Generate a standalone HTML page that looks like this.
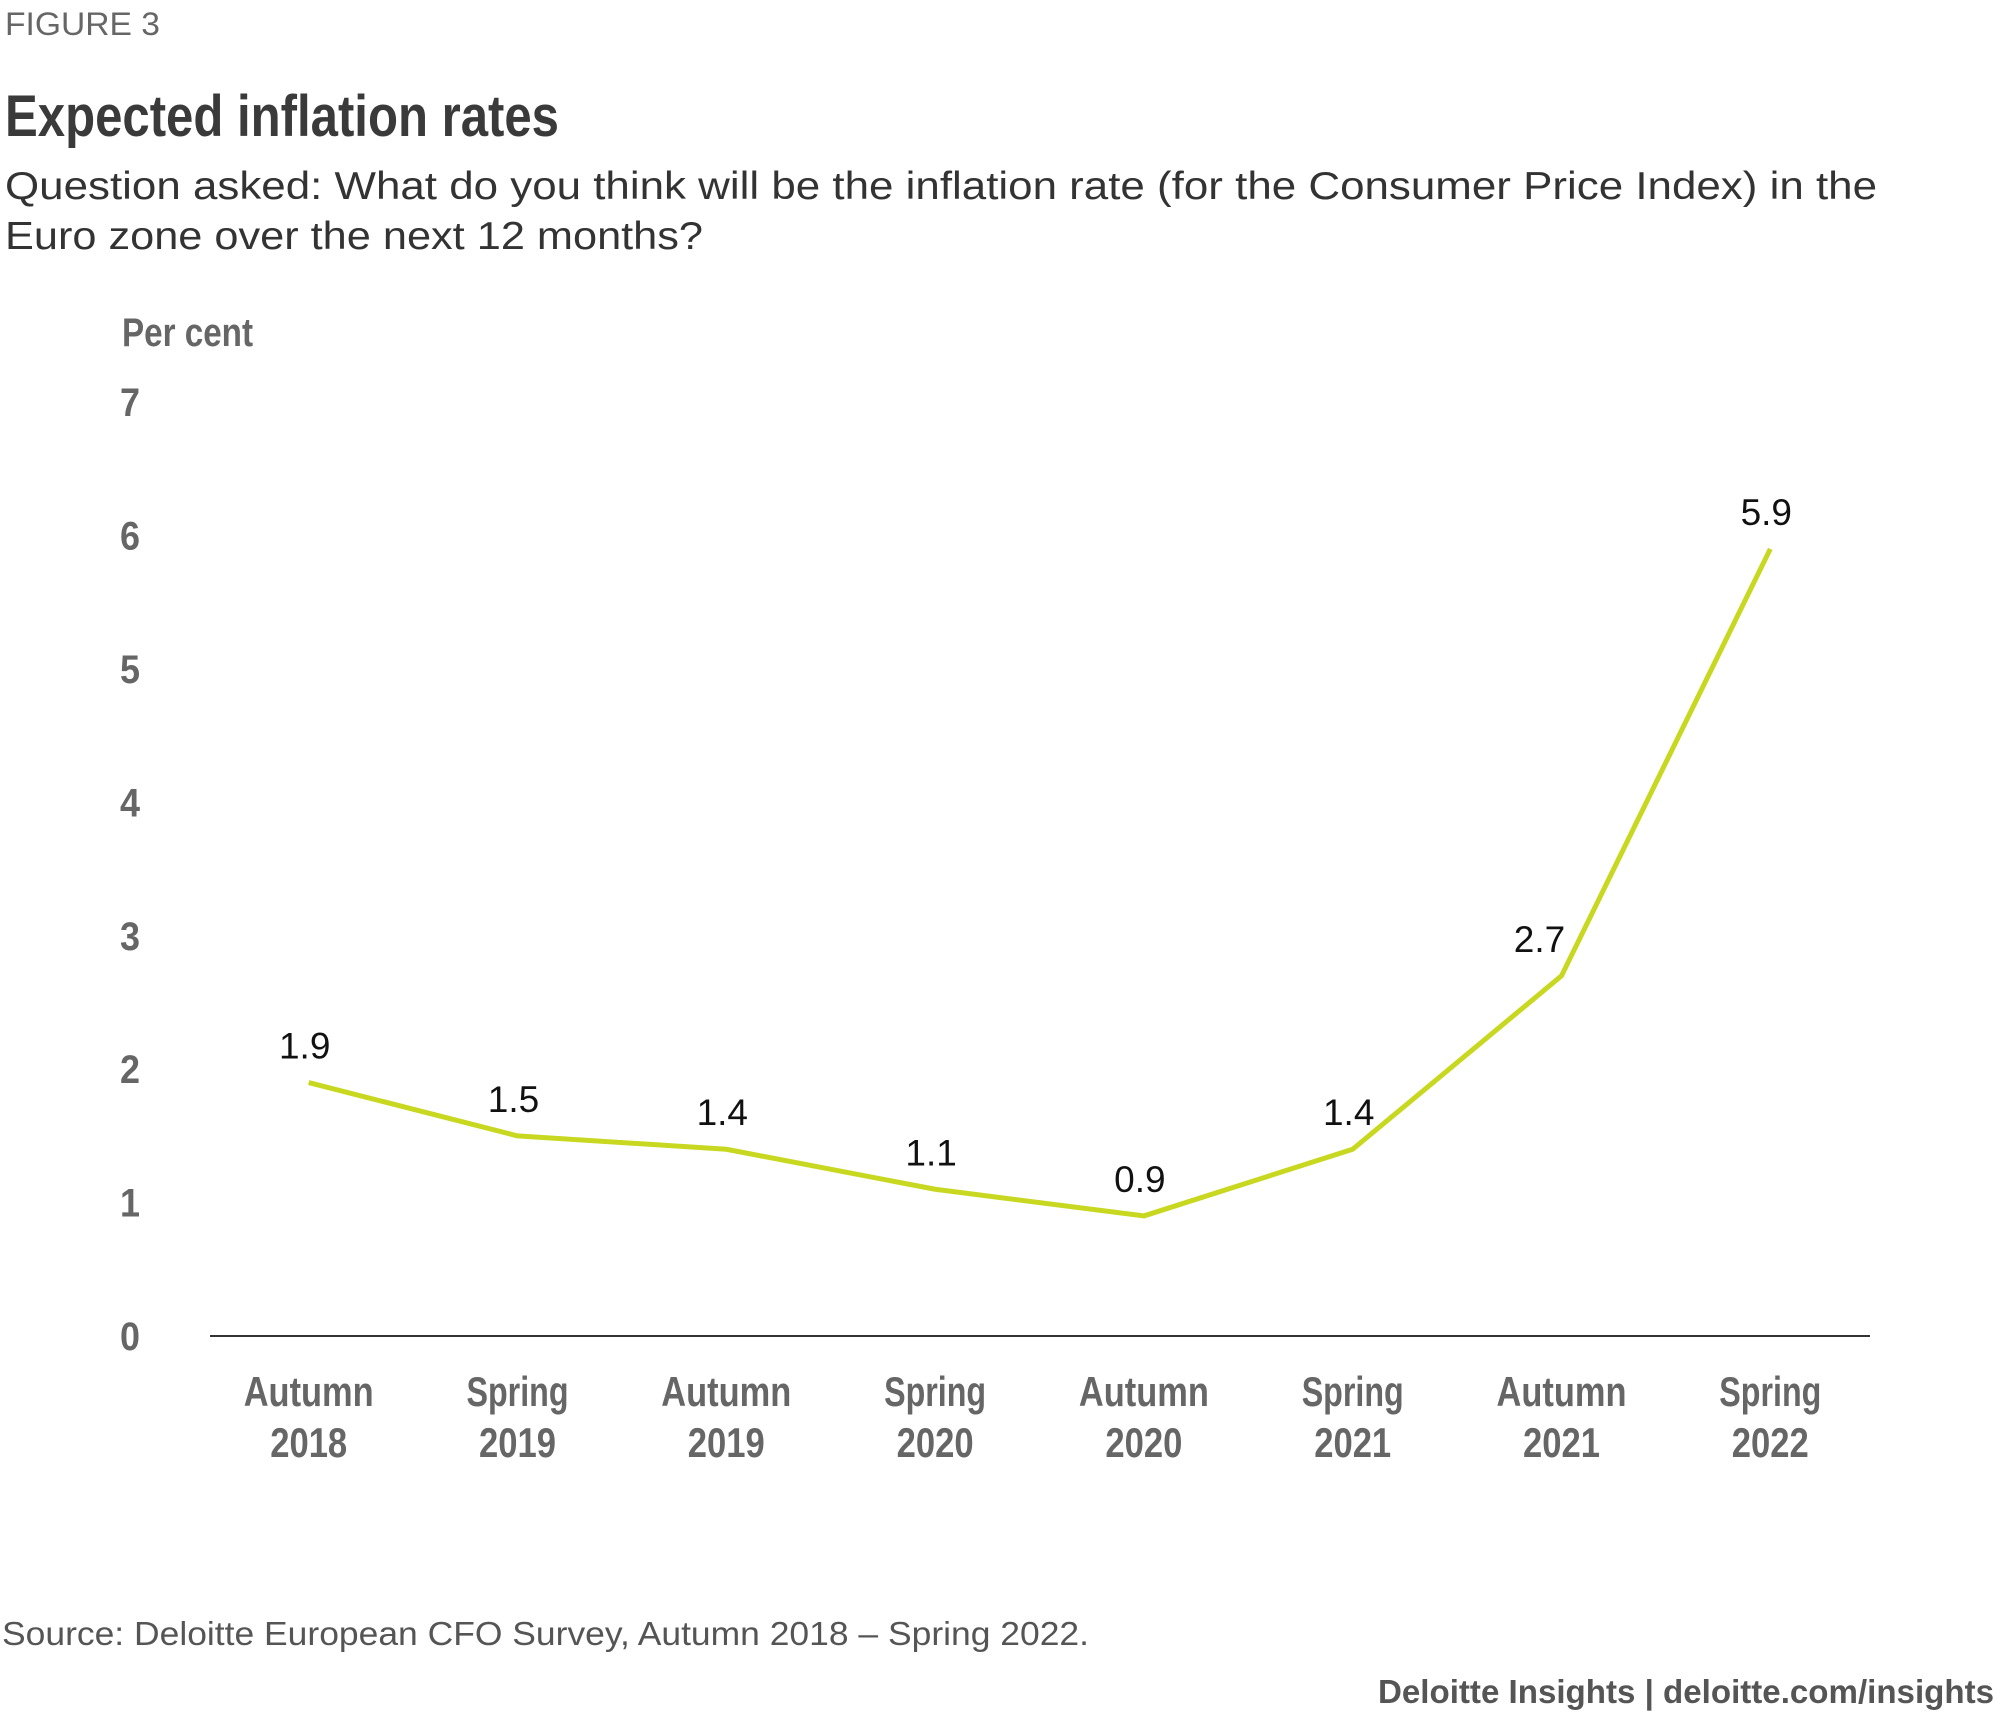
<!DOCTYPE html>
<html><head><meta charset="utf-8"><style>
html,body{margin:0;padding:0;background:#fff;}
svg{display:block;}
</style></head><body>
<svg id="chart" width="2000" height="1722" viewBox="0 0 2000 1722" xmlns="http://www.w3.org/2000/svg">
<text x="5" y="35" font-family="Liberation Sans, sans-serif" font-size="32" fill="#666" textLength="155" lengthAdjust="spacingAndGlyphs">FIGURE 3</text>
<text x="5" y="136" font-family="Liberation Sans Narrow, Liberation Sans, sans-serif" font-weight="bold" font-size="58" fill="#3a3a3a" textLength="554" lengthAdjust="spacingAndGlyphs">Expected inflation rates</text>
<text x="5" y="199" font-family="Liberation Sans, sans-serif" font-size="39" fill="#333" textLength="1872" lengthAdjust="spacingAndGlyphs">Question asked: What do you think will be the inflation rate (for the Consumer Price Index) in the</text>
<text x="5" y="249" font-family="Liberation Sans, sans-serif" font-size="39" fill="#333" textLength="698" lengthAdjust="spacingAndGlyphs">Euro zone over the next 12 months?</text>
<text x="122" y="346" font-family="Liberation Sans Narrow, Liberation Sans, sans-serif" font-weight="bold" font-size="40" fill="#666" textLength="131" lengthAdjust="spacingAndGlyphs">Per cent</text>
<g id="yticks"></g>
<line x1="210" y1="1336" x2="1870" y2="1336" stroke="#333" stroke-width="2"/>
<g id="xticks"></g>
<path id="series" fill="none" stroke="#c8d820" stroke-width="5" stroke-linejoin="round"/>
<g id="labels"></g>
<text x="2" y="1645" font-family="Liberation Sans, sans-serif" font-size="33" fill="#555" textLength="1087" lengthAdjust="spacingAndGlyphs">Source: Deloitte European CFO Survey, Autumn 2018 – Spring 2022.</text>
<text x="1378" y="1703" font-family="Liberation Sans, sans-serif" font-weight="bold" font-size="33" fill="#555" textLength="616" lengthAdjust="spacingAndGlyphs">Deloitte Insights | deloitte.com/insights</text>
</svg>
<script>
const categories1 = ["Autumn","Spring","Autumn","Spring","Autumn","Spring","Autumn","Spring"];
const categories2 = ["2018","2019","2019","2020","2020","2021","2021","2022"];
const values = [1.9,1.5,1.4,1.1,0.9,1.4,2.7,5.9];
const yTicks = [0,1,2,3,4,5,6,7];

const NS="http://www.w3.org/2000/svg";
const y0=1336, unit=133.4, x0=308.7, step=208.8;
const yScale=v=>y0-v*unit;
const xScale=i=>x0+i*step;
function mk(tag,attrs,txt){const e=document.createElementNS(NS,tag);for(const k in attrs)e.setAttribute(k,attrs[k]);if(txt!==undefined)e.textContent=txt;return e;}
const yg=document.getElementById('yticks');
yTicks.forEach(t=>{
  const e=mk('text',{x:130,y:yScale(t)+14,'text-anchor':'middle','font-family':'Liberation Sans Narrow, Liberation Sans, sans-serif','font-weight':'bold','font-size':40,fill:'#666',textLength:20,lengthAdjust:'spacingAndGlyphs'},String(t));
  
  
  yg.appendChild(e);
});
const xg=document.getElementById('xticks');
categories1.forEach((c,i)=>{
  const a=mk('text',{x:xScale(i),y:1406,'text-anchor':'middle','font-family':'Liberation Sans Narrow, Liberation Sans, sans-serif','font-weight':'bold','font-size':42,fill:'#666',textLength:(c==='Autumn'?130:102),lengthAdjust:'spacingAndGlyphs'},c);
  
  
  xg.appendChild(a);
  const b=mk('text',{x:xScale(i),y:1457,'text-anchor':'middle','font-family':'Liberation Sans Narrow, Liberation Sans, sans-serif','font-weight':'bold','font-size':42,fill:'#666',textLength:77,lengthAdjust:'spacingAndGlyphs'},categories2[i]);
  
  
  xg.appendChild(b);
});
document.getElementById('series').setAttribute('d',values.map((v,i)=>(i?'L':'M')+xScale(i)+','+yScale(v)).join(' '));
const lg=document.getElementById('labels');
values.forEach((v,i)=>{
  const e=mk('text',{x:xScale(i)-(i===6?22:4),y:yScale(v)-24,'text-anchor':'middle','font-family':'Liberation Sans, sans-serif','font-size':37,fill:'#111'},v.toFixed(1));
  
  
  lg.appendChild(e);
});
</script>
</body></html>
